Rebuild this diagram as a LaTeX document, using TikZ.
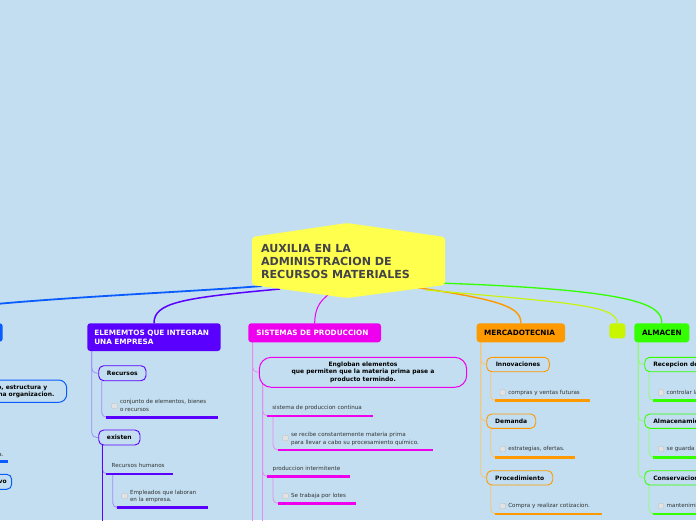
\documentclass[tikz,border=0pt]{standalone}
\usepackage{fontspec}
\setmainfont{DejaVu Sans}
\usetikzlibrary{calc}
\definecolor{bgc}{HTML}{C2DEF0}
\definecolor{cblue}{HTML}{0A5CFF}
\definecolor{cpur}{HTML}{5A00FF}
\definecolor{cpurL}{HTML}{A08CFF}
\definecolor{cmag}{HTML}{EE00EE}
\definecolor{cmagL}{HTML}{E58CF0}
\definecolor{cora}{HTML}{FF9900}
\definecolor{coraL}{HTML}{FFC46E}
\definecolor{clim}{HTML}{C8F500}
\definecolor{cgre}{HTML}{33FF00}
\definecolor{cgreL}{HTML}{8CFF6E}
\definecolor{cyel}{HTML}{FFFF4D}
\definecolor{ctitle}{HTML}{43434B}
\definecolor{cleaf}{HTML}{333333}
\definecolor{cbox}{HTML}{E2E2E2}
\pgfdeclarelayer{back}
\pgfdeclarelayer{conn}
\pgfsetlayers{back,conn,main}
\tikzset{
  every node/.style={inner sep=0pt, outer sep=0pt},
  headbox/.style={anchor=north west, rounded corners=3pt, font=\fontsize{7.3}{9}\selectfont\bfseries, align=left},
  subbox/.style={anchor=north west, draw=#1, line width=0.9pt, rounded corners=5pt, font=\fontsize{6}{7}\selectfont\bfseries, text=black},
  leaf/.style={font=\fontsize{5.6}{7.3}\selectfont, text=cleaf, align=left},
  chk/.style={minimum size=5.5pt, fill=cbox, draw=black!28, line width=0.3pt, rounded corners=1pt},
  uline/.style={draw=#1, line width=2.5pt},
  tree/.style={draw=#1, line width=0.8pt, rounded corners=5pt},
  mainconn/.style={draw=#1, line width=1.3pt},
}
\begin{document}
\begin{tikzpicture}[x=1pt,y=-1pt]
\path[use as bounding box] (0,0) rectangle (696,520);
\begin{pgfonlayer}{back}
\fill[bgc] (0,0) rectangle (696,520);
\end{pgfonlayer}

% central node
\node[minimum width=193pt, minimum height=75pt] (hex) at (348.5,260.5) {};
\fill[cyel, rounded corners=3pt] ($(hex.north west)+(0,14)$) -- ($(hex.north)+(-1.5,0)$) -- ($(hex.north east)+(0,14)$) -- ($(hex.south east)+(0,-13)$) -- ($(hex.south)+(-1.5,0)$) -- ($(hex.south west)+(0,-13)$) -- cycle;
\node[anchor=north west, align=left, font=\fontsize{11.1}{13.3}\selectfont\bfseries, text=ctitle] (title) at (261,244.1) {AUXILIA EN LA\\ADMINISTRACION DE\\RECURSOS MATERIALES};

% main boxes
\node[headbox, fill=cblue, minimum width=202.7pt, minimum height=18.4pt] (bmain) at (-200,323.3) {};
\node[headbox, fill=cpur, text=white, inner xsep=7pt, text width=119.4pt, minimum height=27.7pt] (elem) at (87.3,323.3) {ELEMEMTOS QUE INTEGRAN\\UNA EMPRESA};
\node[headbox, fill=cmag, text=white, inner xsep=8pt, text width=116.7pt, minimum height=19pt] (sis) at (248.3,323.3) {SISTEMAS DE PRODUCCION};
\node[headbox, fill=cora, text=black, inner xsep=7.3pt, text width=73.7pt, minimum height=19pt] (mer) at (476.7,323.3) {MERCADOTECNIA};
\node[headbox, fill=clim, minimum width=16pt, minimum height=15pt] (lim) at (609.3,323.3) {};
\node[headbox, fill=cgre, text=black, inner xsep=7.7pt, text width=39.6pt, minimum height=19pt] (gal) at (634.3,323.3) {ALMACEN};

% ---------- blue branch (cut at the left edge)
\node[anchor=north east, draw=cblue, line width=1pt, rounded corners=8pt, minimum width=160pt, minimum height=22.3pt] (bo1) at (66.7,380) {};
\node[anchor=base east, font=\fontsize{6}{7}\selectfont\bfseries] (bo1a) at (47.3,389) {Es el proceso, estructura y};
\node[anchor=base east, font=\fontsize{6}{7}\selectfont\bfseries] (bo1b) at (54.3,396.7) {funcionamiento de una organizacion.};
\node[leaf, anchor=base east] (bl1) at (3.5,456) {de la empresa.};
\coordinate (b1s) at (-60,461.7);
\coordinate (b1e) at (8.3,461.7);
\node[anchor=north east, draw=cblue, line width=1pt, rounded corners=5pt, minimum width=70pt, minimum height=15pt] (bo2) at (11.7,474.3) {};
\node[anchor=base east, font=\fontsize{6}{7}\selectfont\bfseries] (bo2a) at (6.7,483.4) {Proceso administrativo};

% ---------- purple branch
\node[subbox=cpur, minimum width=47.3pt, minimum height=15pt] (rec) at (98.7,365.7) {Recursos};
\node[subbox=cpur, minimum width=41.3pt, minimum height=15pt] (exi) at (98.7,430) {existen};
\node[leaf, anchor=north west, font=\fontsize{5.6}{8}\selectfont] (p1) at (120,399.4) {conjunto de elementos, bienes\\o recursos};
\node[chk] (p1c) at (114.5,406) {};
\coordinate (p1s) at (106,417.3);
\coordinate (p1e) at (218.3,417.3);
\node[leaf, anchor=base west] (p2) at (111.7,467.7) {Recursos humanos};
\coordinate (p2s) at (106,474);
\coordinate (p2e) at (173.3,474);
\node[leaf, anchor=north west] (p3) at (130,490.4) {Empleados que laboran\\en la empresa.};
\node[chk] (p3c) at (124.5,496) {};
\coordinate (p3s) at (116.7,507.7);
\coordinate (p3e) at (207.7,507.7);

% ---------- magenta branch
\node[anchor=north west, draw=cmag, line width=1pt, rounded corners=12pt, minimum width=207.4pt, minimum height=30pt, align=center, font=\fontsize{6}{7.6}\selectfont\bfseries] (eng) at (259.3,357.3) {Engloban elementos\\que permiten que la materia prima pase a\\producto termindo.};
\node[leaf, anchor=base west] (m1) at (272.3,409.7) {sistema de produccion continua};
\coordinate (m1s) at (267.3,416);
\coordinate (m1e) at (373.3,416);
\node[leaf, anchor=north west] (m2) at (291,432.7) {se recibe constantemente materia prima\\para llevar a cabo su procesamiento químico.};
\node[chk] (m2c) at (285.5,438) {};
\coordinate (m2s) at (277.7,450);
\coordinate (m2e) at (433.3,450);
\node[leaf, anchor=base west] (m3) at (272.7,470.4) {produccion intermitente};
\coordinate (m3s) at (267.3,476.7);
\coordinate (m3e) at (350,476.7);
\node[leaf, anchor=base west] (m4) at (291,497.6) {Se trabaja por lotes};
\node[chk] (m4c) at (285.5,496) {};
\coordinate (m4s) at (277.7,503.5);
\coordinate (m4e) at (356,503.5);

% ---------- orange branch
\node[subbox=cora, minimum width=62.6pt, minimum height=14.4pt] (inn) at (486.7,357.3) {Innovaciones};
\node[subbox=cora, minimum width=49pt, minimum height=14.3pt] (dem) at (486.7,414) {Demanda};
\node[subbox=cora, minimum width=66pt, minimum height=14.3pt] (pro) at (486.7,470.7) {Procedimiento};
\node[leaf, anchor=base west] (o1) at (508.3,394.4) {compras y ventas futuras};
\node[chk] (o1c) at (502.7,392.5) {};
\coordinate (o1s) at (494.5,400.7);
\coordinate (o1e) at (590,400.7);
\node[leaf, anchor=base west] (o2) at (508.3,450.9) {estrategias, ofertas.};
\node[chk] (o2c) at (502.7,449) {};
\coordinate (o2s) at (494.5,457.3);
\coordinate (o2e) at (574.7,457.3);
\node[leaf, anchor=base west] (o3) at (508.3,507.9) {Compra y realizar cotizacion.};
\node[chk] (o3c) at (502.7,506) {};
\coordinate (o3s) at (494.5,514);
\coordinate (o3e) at (601.7,514);

% ---------- green branch
\node[subbox=cgre, inner xsep=8.6pt, minimum height=14.4pt] (rcp) at (644.7,357.3) {Recepcion de materiales};
\node[subbox=cgre, inner xsep=8.6pt, minimum height=14.3pt] (gam) at (644.7,414) {Almacenamiento};
\node[subbox=cgre, inner xsep=8.6pt, minimum height=14.3pt] (gco) at (644.7,470.7) {Conservacion};
\node[leaf, anchor=base west] (g1) at (666.7,394.4) {controlar la mercancia};
\node[chk] (g1c) at (661,392.5) {};
\coordinate (g1s) at (652.7,400.7);
\coordinate (g1e) at (760,400.7);
\node[leaf, anchor=base west] (g2) at (666.7,450.9) {se guarda la mercancia};
\node[chk] (g2c) at (661,449) {};
\coordinate (g2s) at (652.7,457.3);
\coordinate (g2e) at (760,457.3);
\node[leaf, anchor=base west] (g3) at (666.7,507.9) {mantenimiento};
\node[chk] (g3c) at (661,506) {};
\coordinate (g3s) at (652.7,514);
\coordinate (g3e) at (760,514);

\begin{pgfonlayer}{conn}
% main connectors
\draw[mainconn=cblue, line width=1.8pt] ($(hex.south west)+(10,-12)$) .. controls (150,295) and (-98,303) .. (bmain.north);
\draw[mainconn=cpur, line width=1.5pt] ($(hex.south west)+(28,-9)$) .. controls (180,298) and (154,303) .. (elem.north);
\draw[mainconn=cmag, line width=1pt] ($(hex.south)+(-18,-5)$) .. controls (318,302) and (315,310) .. (sis.north);
\draw[mainconn=cora, line width=1.4pt] ($(hex.south)+(64,-11)$) .. controls (505,300) and (521,308) .. (mer.north);
\draw[mainconn=cgre, line width=1.3pt] ($(hex.south)+(90,-15)$) .. controls (640,290) and (662,305) .. (gal.north);
\draw[mainconn=clim, line width=1.1pt] ($(hex.south)+(78,-8)$) .. controls (570,303) and (617,305) .. (lim.north);

% blue
\draw[uline=cblue] (b1s) -- (b1e);
% purple trees
\draw[tree=cpurL] ([xshift=4.4pt]elem.south west) |- (rec.west);
\draw[tree=cpurL] ([xshift=4.4pt]elem.south west) |- (exi.west);
\draw[tree=cpurL] ([xshift=3pt]rec.south west) |- (p1s);
\draw[tree=cpurL] ([xshift=3.6pt]exi.south west) |- (p2s);
\draw[tree=cpur, line width=0.9pt] ([xshift=3.6pt]exi.south west) -- ++(0,90);
\draw[tree=cpurL] ([xshift=6.7pt]p2s) |- (p3s);
\draw[uline=cpur] (p1s) -- (p1e);
\draw[uline=cpur] (p2s) -- (p2e);
\draw[uline=cpur] (p3s) -- (p3e);
% magenta trees
\draw[tree=cmagL] ([xshift=4.4pt]sis.south west) |- (eng.west);
\draw[tree=cmagL] ([xshift=4.4pt]sis.south west) -- ++(0,200);
\draw[tree=cmagL] ($(eng.south west)+(3.4,-3)$) |- (m1s);
\draw[tree=cmagL] ($(eng.south west)+(3.4,-3)$) |- (m3s);
\draw[tree=cmagL] ($(eng.south west)+(3.4,-3)$) -- ++(0,150);
\draw[tree=cmagL] ([xshift=5.7pt]m1s) |- (m2s);
\draw[tree=cmagL] ([xshift=5.7pt]m3s) |- (m4s);
\draw[uline=cmag] (m1s) -- (m1e);
\draw[uline=cmag] (m2s) -- (m2e);
\draw[uline=cmag] (m3s) -- (m3e);
\draw[uline=cmag] (m4s) -- (m4e);
% orange trees
\draw[tree=coraL] ([xshift=4pt]mer.south west) |- (inn.west);
\draw[tree=coraL] ([xshift=4pt]mer.south west) |- (dem.west);
\draw[tree=coraL] ([xshift=4pt]mer.south west) |- (pro.west);
\draw[tree=coraL] ([xshift=4pt]inn.south west) |- (o1s);
\draw[tree=coraL] ([xshift=4pt]dem.south west) |- (o2s);
\draw[tree=coraL] ([xshift=4pt]pro.south west) |- (o3s);
\draw[uline=cora] (o1s) -- (o1e);
\draw[uline=cora] (o2s) -- (o2e);
\draw[uline=cora] (o3s) -- (o3e);
% green trees
\draw[tree=cgreL] ([xshift=4pt]gal.south west) |- (rcp.west);
\draw[tree=cgreL] ([xshift=4pt]gal.south west) |- (gam.west);
\draw[tree=cgreL] ([xshift=4pt]gal.south west) |- (gco.west);
\draw[tree=cgreL] ([xshift=4.3pt]rcp.south west) |- (g1s);
\draw[tree=cgreL] ([xshift=4.3pt]gam.south west) |- (g2s);
\draw[tree=cgreL] ([xshift=4.3pt]gco.south west) |- (g3s);
\draw[uline=cgre] (g1s) -- (g1e);
\draw[uline=cgre] (g2s) -- (g2e);
\draw[uline=cgre] (g3s) -- (g3e);
\end{pgfonlayer}
\end{tikzpicture}
\end{document}
